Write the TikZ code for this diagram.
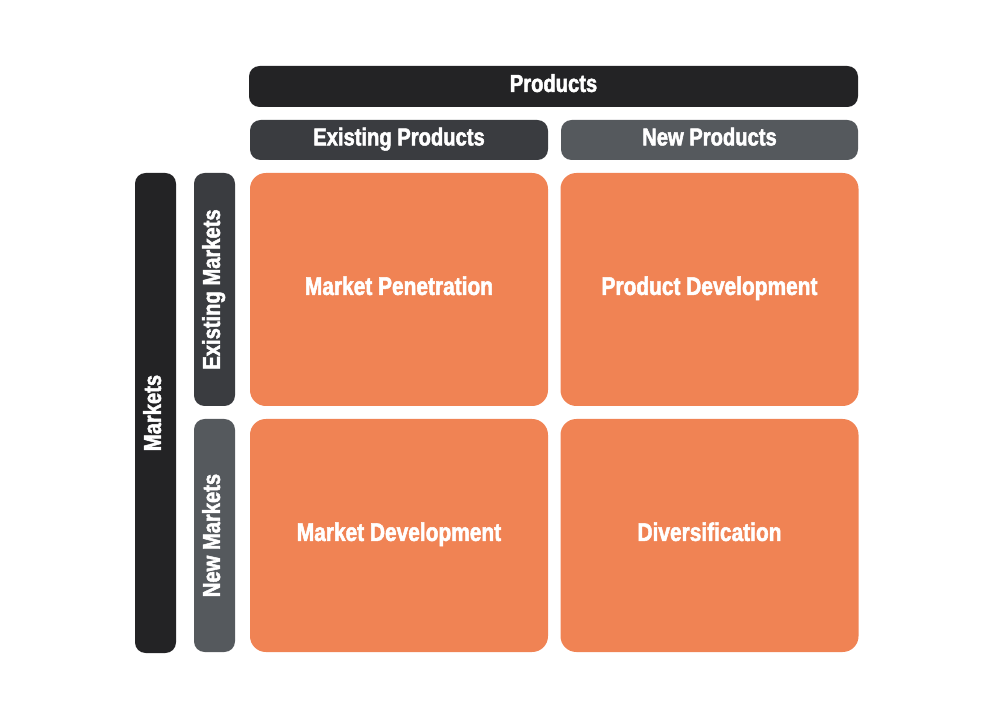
\documentclass[tikz,border=0pt]{standalone}
\usepackage{fontspec}
\setmainfont{Liberation Sans}
\newfontfamily\condfont[FakeStretch=0.82, FakeBold=2]{Liberation Sans Bold}
\usepackage{xcolor}
\usepackage{tikz}
\usetikzlibrary{positioning}

\definecolor{barblack}{HTML}{232325}
\definecolor{bardark}{HTML}{3A3C40}
\definecolor{bargrey}{HTML}{55595D}
\definecolor{cellorange}{HTML}{F08354}

\begin{document}
\begin{tikzpicture}[
    bar/.style={rounded corners=6pt, text=white, font=\condfont\fontsize{14}{16}\selectfont, inner sep=0pt, text height=0.72em, text depth=0.1em},
    cell/.style={rounded corners=9pt, fill=cellorange, text=white, minimum width=5.96cm, minimum height=4.66cm, font=\condfont\fontsize{14.5}{16}\selectfont, inner sep=0pt, text height=0.72em, text depth=0.1em}
  ]
  \useasboundingbox (0, 0) rectangle (20, 14.14);

  % header bars
  \node[bar, fill=barblack, minimum width=12.18cm, minimum height=0.82cm] (prod) at (11.07, 12.41) {Products};
  \node[bar, fill=bardark, minimum width=5.96cm, minimum height=0.8cm] (exprod) at (7.98, 11.34) {Existing Products};
  \node[bar, fill=bargrey, minimum width=5.94cm, minimum height=0.8cm] (newprod) at (14.19, 11.34) {New Products};

  % side bars
  \node[bar, fill=barblack, minimum width=9.6cm, minimum height=0.82cm, rotate=90] (mark) at (3.11, 5.88) {Markets};
  \node[bar, fill=bardark, minimum width=4.66cm, minimum height=0.82cm, rotate=90] (exmark) at (4.29, 8.35) {Existing Markets};
  \node[bar, fill=bargrey, minimum width=4.66cm, minimum height=0.82cm, rotate=90] (newmark) at (4.29, 3.43) {New Markets};

  % strategy cells
  \node[cell] (pen) at (7.98, 8.35) {Market Penetration};
  \node[cell] (pdev) at (14.19, 8.35) {Product Development};
  \node[cell] (mdev) at (7.98, 3.43) {Market Development};
  \node[cell] (div) at (14.19, 3.43) {Diversification};
\end{tikzpicture}
\end{document}
